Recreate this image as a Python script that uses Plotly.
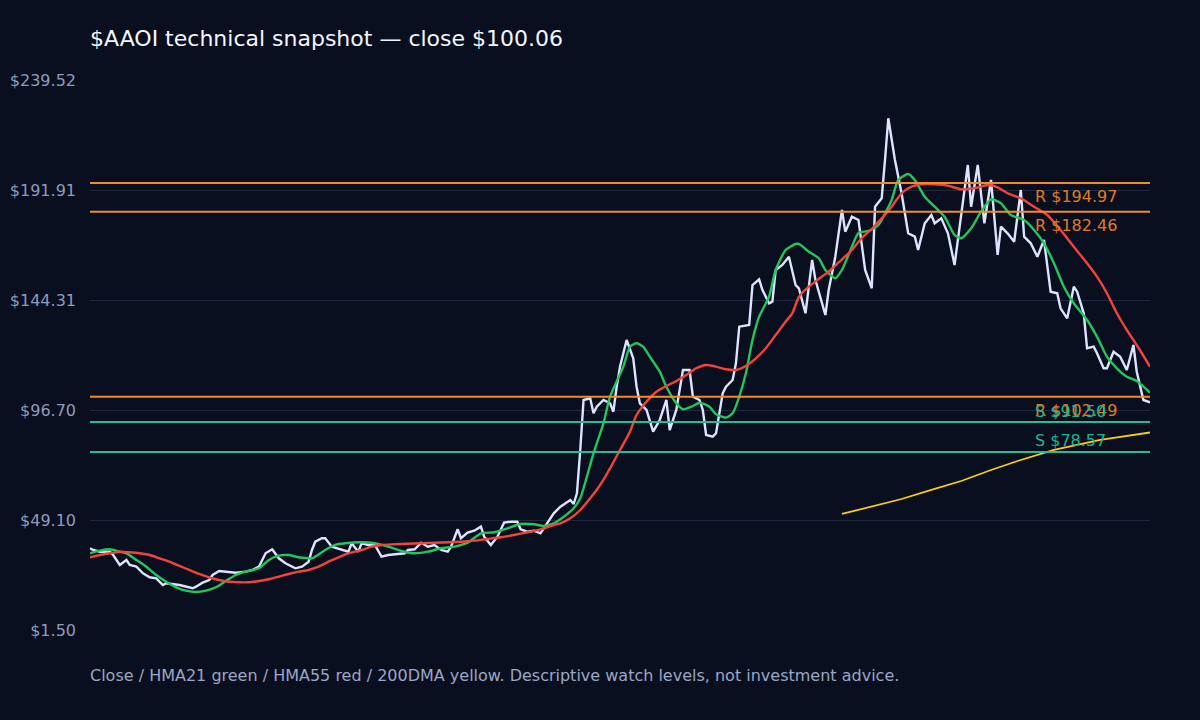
import plotly.graph_objects as go

# ---------------- data ----------------
TICKER = "AAOI"
LAST_CLOSE = 100.06

close_day = [0, 1, 3, 6, 7, 9, 11, 12, 14, 16, 18, 20, 22, 23, 27, 29, 31, 32, 34, 36, 37, 39, 41, 44, 47, 49,
             51, 53, 55, 57, 59, 62, 64, 66, 67, 68, 70, 71, 73, 76, 78, 79, 81, 82, 84, 86, 88, 90, 95, 96, 98,
             100, 102, 104, 106, 108, 109, 111, 112, 114, 116, 118, 119, 121, 123, 125, 127, 129, 130, 132, 134,
             136, 138, 140, 142, 145, 146, 147, 148, 149, 151, 152, 153, 155, 157, 158, 159, 160, 162, 164, 165,
             166, 168, 170, 172, 174, 175, 177, 179, 181, 182, 184, 185, 186, 188, 189, 191, 192, 194, 195, 196,
             199, 200, 202, 203, 205, 206, 207, 209, 211, 213, 214, 216, 218, 219, 222, 223, 225, 227, 228, 230,
             232, 234, 236, 237, 239, 240, 241, 243, 245, 247, 249, 250, 252, 254, 255, 257, 259, 261, 263, 265,
             266, 268, 270, 272, 274, 275, 277, 279, 281, 282, 284, 286, 288, 290, 292, 293, 295, 297, 298, 300,
             301, 303, 304, 306, 307, 309, 311, 313, 315, 316, 318, 320]
close_val = [36.86, 36.12, 35.39, 35.39, 33.96, 29.63, 31.79, 29.63, 28.89, 26.04, 24.31, 23.87, 20.97, 21.71,
             20.97, 20.24, 19.55, 20.24, 21.97, 23.14, 25.30, 27.03, 26.73, 26.30, 26.73, 27.47,
             28.89, 34.69, 36.42, 32.53, 30.37, 28.20, 28.89, 31.06, 36.12, 39.71, 41.19, 41.19, 37.55, 36.12,
             35.39, 39.02, 35.39, 39.02, 38.29, 38.29, 33.22, 33.96, 34.69, 36.12, 36.42,
             39.28, 37.55, 38.29, 36.12, 35.39, 37.55, 45.08, 41.19, 43.61, 44.47, 46.21, 41.88, 38.29, 41.88,
             47.94, 48.37, 48.37, 45.08, 44.04, 44.47,
             43.35, 47.68, 52.00, 54.86, 57.76, 56.03, 60.66, 79.40, 101.04, 101.77, 95.28, 98.14, 101.04, 99.61,
             95.97, 106.79, 115.45, 127.00, 119.08, 106.79,
             99.61, 96.71, 87.32, 92.38, 101.04, 88.05, 96.71, 114.02, 114.02, 102.47, 101.04, 96.71, 85.89, 85.16,
             86.63, 103.94, 106.79, 109.69, 116.92, 132.76,
             133.50, 150.81, 153.27, 148.64, 142.89, 143.58, 157.30, 159.46, 163.05, 150.81, 149.38, 138.56,
             161.62, 152.97, 137.82, 148.64, 163.05, 183.26, 173.87, 180.36,
             178.94, 157.30, 149.38, 184.69, 188.33, 204.90, 222.95, 204.90, 190.49, 173.18, 171.71, 165.95,
             177.51, 181.10, 177.51, 179.67, 173.18, 159.46, 180.36, 202.74,
             184.69, 202.74, 177.51, 196.25, 163.79, 176.04, 173.18, 169.55, 191.92, 171.71, 168.85, 163.05,
             170.28, 147.91, 147.21, 140.72, 136.39, 150.07, 147.91, 138.56,
             123.41, 124.11, 121.25, 114.76, 114.76, 121.94, 119.78, 114.02, 124.84, 113.29, 101.04, 100.06]

hma21_day = [0, 3, 6, 9, 11, 14, 17, 20, 23, 26, 29, 32, 35, 38, 41, 44, 47, 51, 54, 57, 60, 63, 67, 71, 74, 77,
             82, 86, 90, 94, 98, 102, 106, 110, 114, 118, 122, 126, 130, 134, 137, 140, 142, 146, 148, 150, 152,
             155, 157, 161, 163, 165, 167, 169, 172, 174, 177, 179, 182, 184, 187, 189, 192, 194, 196, 198, 200,
             202, 205, 207, 210, 213, 214, 217, 220, 222, 225, 227, 230, 232, 235, 238, 242, 244, 247, 249, 252,
             255, 258, 261, 263, 266, 269, 272, 275, 278, 282, 285, 288, 291, 294, 297, 301, 304, 307, 310, 313,
             316, 318, 320]
hma21_val = [34.69, 35.82, 36.42, 35.39, 34.69, 31.79, 28.89, 25.30, 22.40, 19.98, 18.51, 17.95, 18.51, 19.98,
             22.71, 25.30, 26.73, 28.20, 31.79, 33.65, 33.96, 32.96, 32.53, 36.12, 38.29, 39.02,
             39.45, 39.02, 37.55, 35.69, 34.69, 35.39, 36.86, 37.55, 39.28, 43.35, 43.78, 45.51, 47.37, 47.24,
             46.51, 47.68, 49.41, 54.17, 58.50, 67.84, 77.97,
             90.95, 102.47, 115.45, 124.11, 125.58, 124.11, 119.78, 113.29, 106.79, 99.61, 97.01, 98.44, 99.87,
             98.14, 94.85, 93.38, 95.28, 102.47, 112.59, 127.00,
             137.09, 145.75, 157.30, 165.95, 168.55, 168.55, 165.22, 162.36, 157.30, 153.71, 157.30, 167.38,
             173.31, 174.18, 176.77, 187.59, 196.25, 198.84, 196.25, 189.02,
             184.69, 180.36, 172.44, 171.02, 175.34, 182.53, 187.89, 186.16, 181.10, 178.94, 174.61, 168.85,
             160.20, 150.07, 142.89, 135.66, 128.43, 119.78, 114.76, 111.12,
             109.26, 106.79, 104.20]

hma55_day = [0, 3, 6, 9, 12, 15, 18, 21, 24, 27, 30, 33, 36, 39, 42, 45, 48, 51, 54, 57, 60, 63, 66, 69, 72, 75,
             78, 82, 85, 88, 92, 96, 100, 104, 108, 112, 116, 120, 124, 128, 132, 136, 140, 142, 145, 148, 151,
             154, 157, 160, 163, 165, 168, 171, 174, 177, 180, 183, 186, 189, 192, 195, 198, 201, 204, 207, 210,
             212, 214, 217, 220, 223, 226, 230, 233, 236, 239, 242, 245, 248, 251, 255, 259, 263, 267, 271, 274,
             277, 281, 285, 289, 293, 297, 301, 304, 307, 310, 313, 316, 320]
hma55_val = [32.96, 33.96, 34.69, 35.39, 35.13, 34.69, 33.96, 32.53, 31.06, 29.20, 27.47, 25.74, 24.31, 23.14,
             22.40, 22.14, 22.14, 22.71, 23.44, 24.57, 25.74, 26.73, 27.47, 28.89, 31.06, 32.96,
             34.69, 36.12, 37.55, 38.29, 38.59, 38.85, 39.02, 39.28, 39.45, 39.71, 40.15, 40.88, 41.62, 42.61,
             43.78, 45.08, 46.94, 47.68, 49.84, 53.43, 58.50,
             64.25, 71.48, 79.40, 87.32, 94.55, 100.30, 104.63, 107.10, 109.26, 111.86, 114.76, 116.18, 115.45,
             114.32, 114.02, 115.75, 119.08, 123.41, 129.17, 134.92,
             138.50, 145.61, 150.07, 153.40, 156.56, 160.54, 165.95, 171.15, 175.04, 179.67, 184.69, 190.49,
             193.35, 194.39, 194.39, 193.78, 192.22, 192.65, 194.08, 193.09,
             190.49, 188.33, 184.69, 181.10, 174.61, 167.38, 160.20, 154.40, 147.21, 138.56, 131.33, 124.84,
             115.45]

dma200_day = [227, 235, 245, 254, 263, 272, 280, 291, 305, 320]
dma200_val = [51.70, 54.73, 58.19, 62.09, 65.98, 70.74, 74.64, 79.40, 83.73, 86.97]

level_kind = ["R", "R", "R", "S", "S"]
level_price = [194.97, 182.46, 102.49, 91.50, 78.57]

Y_MIN, Y_MAX = 1.4963, 239.5169
tick_labels = ["$1.50", "$49.10", "$96.70", "$144.31", "$191.91", "$239.52"]
X_MAX = 320

TITLE = f"${TICKER} technical snapshot — close ${LAST_CLOSE:.2f}"
FOOTER = "Close / HMA21 green / HMA55 red / 200DMA yellow. Descriptive watch levels, not investment advice."

# ---------------- styles ----------------
BG = "#0a0f1f"
GRID = "#1e2940"
TICK_COLOR = "#8e9bbb"
FOOT_COLOR = "#9aa7c6"
C_CLOSE = "#dce5ff"
C_HMA21 = "#22c55e"
C_HMA55 = "#f4433a"
C_DMA = "#facc15"
C_RES = "#f28c28"
C_SUP = "#1fbf9a"
C_RES_TXT = "#e07b22"
C_SUP_TXT = "#1db592"
FONT = "DejaVu Sans"

fig = go.Figure()
fig.add_trace(go.Scatter(x=close_day, y=close_val, mode="lines", name="Close",
                         line=dict(color=C_CLOSE, width=2.4)))
fig.add_trace(go.Scatter(x=hma21_day, y=hma21_val, mode="lines", name="HMA21",
                         line=dict(color=C_HMA21, width=2.4, shape="spline", smoothing=0.6)))
fig.add_trace(go.Scatter(x=hma55_day, y=hma55_val, mode="lines", name="HMA55",
                         line=dict(color=C_HMA55, width=2.4, shape="spline", smoothing=0.6)))
fig.add_trace(go.Scatter(x=dma200_day, y=dma200_val, mode="lines", name="200DMA",
                         line=dict(color=C_DMA, width=1.8)))

for kind, price in zip(level_kind, level_price):
    col = C_RES if kind == "R" else C_SUP
    tcol = C_RES_TXT if kind == "R" else C_SUP_TXT
    fig.add_shape(type="line", xref="paper", x0=0, x1=1, yref="y", y0=price, y1=price,
                  line=dict(color=col, width=2), layer="above")
    fig.add_annotation(xref="paper", x=(1033 - 90) / 1060, yref="y", y=price,
                       text=f"{kind} ${price:.2f}", showarrow=False, xanchor="left", yanchor="middle",
                       yshift=-14 if kind == "R" else 11,
                       font=dict(family=FONT, size=16, color=tcol))

step = (Y_MAX - Y_MIN) / (len(tick_labels) - 1)
tickvals = [Y_MIN + i * step for i in range(len(tick_labels))]

fig.add_annotation(xref="paper", x=0, yref="paper", y=(630 - 675) / 550, text=FOOTER,
                   showarrow=False, xanchor="left", yanchor="middle", xshift=-2,
                   font=dict(family=FONT, size=16, color=FOOT_COLOR))

fig.update_layout(
    width=1200, height=720,
    paper_bgcolor=BG, plot_bgcolor=BG,
    margin=dict(l=90, r=50, t=80, b=90, autoexpand=False),
    showlegend=False,
    font=dict(family=FONT, color=TICK_COLOR),
    title=dict(text=TITLE, x=90 / 1200, xref="container", xanchor="left",
               y=1 - 38 / 720, yref="container", yanchor="middle",
               font=dict(family=FONT, size=22, color="#f3f6ff")),
    xaxis=dict(range=[0, X_MAX], visible=False, showgrid=False, zeroline=False, automargin=False),
    yaxis=dict(range=[Y_MIN, Y_MAX], tickvals=tickvals, ticktext=tick_labels, showgrid=True,
               gridcolor=GRID, gridwidth=1, zeroline=False, showline=False, ticks="",
               ticklabelstandoff=13, automargin=False,
               tickfont=dict(family=FONT, size=16, color=TICK_COLOR)),
)

fig.write_html("out.html", config={"displayModeBar": False})
